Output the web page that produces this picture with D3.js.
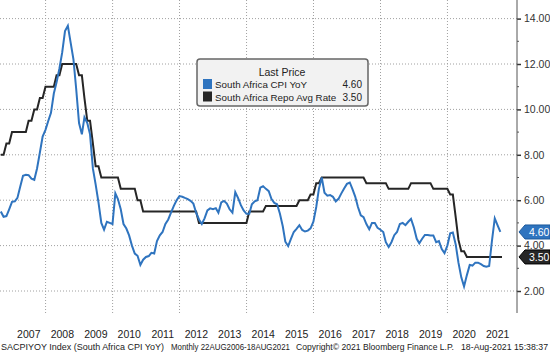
<!DOCTYPE html>
<html>
<head>
<meta charset="utf-8">
<script src="https://cdn.jsdelivr.net/npm/d3@7"></script>
<style>
  body { margin: 0; background: #fff; }
  svg { display: block; font-family: "Liberation Sans", Arial, sans-serif; }
</style>
</head>
<body>
<div id="viz"></div>
<script>
// monthly data, first value = Aug 2006
const startYear = 2006, startMonth = 7;

// South Africa CPI YoY (Aug 2006 .. Jul 2021)
const cpiYoY = [
  5.5, 5.27, 5.3, 5.6, 5.93,
  5.95, 6.1, 6.6, 7.08, 7.12, 7.1, 6.95, 6.9, 7.4, 8.1, 8.8, 9.1,
  9.5, 9.85, 10.7, 11.2, 11.8, 12.5, 13.45, 13.68, 12.95, 12.2, 10.9, 9.4,
  8.9, 9.65, 9.4, 8.9, 7.4, 6.7, 5.9, 5.0, 4.7, 5.05, 5.0, 4.95,
  6.3, 6.05, 5.6, 4.95, 4.75, 4.45, 4.0, 3.65, 3.55, 3.15, 3.38, 3.5,
  3.54, 3.68, 3.65, 4.2, 4.45, 4.6, 4.95, 5.15, 5.45, 5.75, 6.0, 6.18,
  6.15, 6.1, 6.05, 5.97, 5.85, 5.45, 5.15, 4.95, 5.2, 5.55, 5.64, 5.6,
  5.65, 5.45, 5.9, 5.97, 5.85, 5.6, 5.45, 6.35, 6.1, 5.78, 5.55, 5.4,
  5.4, 5.82, 5.95, 6.0, 6.55, 6.62, 6.5, 6.4, 6.05, 5.88, 5.82, 5.4,
  4.85, 4.17, 3.98, 4.3, 4.6, 4.74, 4.9, 4.69, 4.62, 4.66, 4.76, 5.05,
  5.7, 6.5, 7.0, 6.33, 6.2, 6.23, 6.15, 5.95, 6.06, 6.3, 6.52, 6.72,
  6.78, 6.5, 6.16, 5.7, 5.33, 5.25, 4.95, 4.72, 5.0, 5.0, 4.78, 4.7,
  4.6, 4.15, 3.94, 4.15, 4.46, 4.6, 4.95, 5.0, 4.9, 5.05, 5.18, 4.8,
  4.3, 4.1, 4.3, 4.47, 4.47, 4.45, 4.45, 4.15, 4.2, 3.85, 3.67, 4.0,
  4.54, 4.58, 4.05, 3.25, 2.6, 2.2, 2.7, 3.15, 3.12, 3.25, 3.25, 3.18,
  3.1, 3.07, 3.1, 4.2, 5.2, 4.9, 4.6
];

// South Africa repo average rate (Aug 2006 .. Aug 2021)
const repoRate = [
  8.0, 8.0, 8.5, 8.5, 9.0,
  9.0, 9.0, 9.0, 9.0, 9.0, 9.5, 9.5, 10.0, 10.0, 10.5, 10.5, 11.0,
  11.0, 11.0, 11.0, 11.5, 11.5, 12.0, 12.0, 12.0, 12.0, 12.0, 12.0, 11.5,
  11.5, 10.5, 9.5, 9.5, 8.5, 7.5, 7.5, 7.0, 7.0, 7.0, 7.0, 7.0,
  7.0, 7.0, 6.5, 6.5, 6.5, 6.5, 6.5, 6.5, 6.0, 6.0, 5.5, 5.5,
  5.5, 5.5, 5.5, 5.5, 5.5, 5.5, 5.5, 5.5, 5.5, 5.5, 5.5, 5.5,
  5.5, 5.5, 5.5, 5.5, 5.5, 5.5, 5.0, 5.0, 5.0, 5.0, 5.0, 5.0,
  5.0, 5.0, 5.0, 5.0, 5.0, 5.0, 5.0, 5.0, 5.0, 5.0, 5.0, 5.0,
  5.5, 5.5, 5.5, 5.5, 5.5, 5.5, 5.75, 5.75, 5.75, 5.75, 5.75, 5.75,
  5.75, 5.75, 5.75, 5.75, 5.75, 5.75, 6.0, 6.0, 6.0, 6.0, 6.25, 6.25,
  6.75, 6.75, 7.0, 7.0, 7.0, 7.0, 7.0, 7.0, 7.0, 7.0, 7.0, 7.0,
  7.0, 7.0, 7.0, 7.0, 7.0, 7.0, 6.75, 6.75, 6.75, 6.75, 6.75, 6.75,
  6.75, 6.75, 6.5, 6.5, 6.5, 6.5, 6.5, 6.5, 6.5, 6.5, 6.75, 6.75,
  6.75, 6.75, 6.75, 6.75, 6.75, 6.75, 6.5, 6.5, 6.5, 6.5, 6.5, 6.5,
  6.25, 6.25, 5.25, 4.25, 3.75, 3.75, 3.5, 3.5, 3.5, 3.5, 3.5, 3.5,
  3.5, 3.5, 3.5, 3.5, 3.5, 3.5, 3.5, 3.5
];

const yearLabels = ["2007", "2008", "2009", "2010", "2011", "2012", "2013", "2014",
  "2015", "2016", "2017", "2018", "2019", "2020", "2021"];
const gridYears = [2008, 2010, 2012, 2014, 2016, 2018, 2020];
const yTicks = [2, 4, 6, 8, 10, 12, 14];
const yMinorTicks = [3, 5, 7, 9, 11, 13];

const seriesNames = ["South Africa CPI YoY", "South Africa Repo Avg Rate"];
const lastValues = ["4.60", "3.50"];
const colors = ["#2f74bf", "#262626"];

const startDate = new Date(2006, 7, 22);
const endDate = new Date(2021, 7, 18);

// month end dates, the last repo point is the chart end date
const monthEnd = (i) => {
  const d = new Date(startYear, startMonth + i + 1, 0);
  return d > endDate ? endDate : d;
};

const width = 550, height = 353;
const axisX = 517;

const svg = d3.select("#viz")
  .append("svg")
  .attr("width", width)
  .attr("height", height);

const x = d3.scaleTime()
  .domain([startDate, endDate])
  .range([0, 502]);

const y = d3.scaleLinear()
  .domain([2, 14])
  .range([291, 18.6]);

// grid
svg.append("g")
  .selectAll("line")
  .data(yTicks)
  .enter()
  .append("line")
  .attr("x1", 0)
  .attr("x2", axisX)
  .attr("y1", (d) => y(d))
  .attr("y2", (d) => y(d))
  .attr("stroke", "#a0a0a0")
  .attr("stroke-dasharray", "1,2");

svg.append("g")
  .selectAll("line")
  .data(gridYears)
  .enter()
  .append("line")
  .attr("x1", (d) => x(new Date(d, 0, 1)))
  .attr("x2", (d) => x(new Date(d, 0, 1)))
  .attr("y1", 0)
  .attr("y2", 315)
  .attr("stroke", "#a0a0a0")
  .attr("stroke-dasharray", "1,2");

// right axis
const yAxis = svg.append("g")
  .attr("transform", `translate(${axisX},0)`)
  .call(d3.axisRight(y)
    .tickValues(yTicks)
    .tickFormat(d3.format(".2f"))
    .tickSize(4)
    .tickPadding(3));
yAxis.select(".domain").remove();
yAxis.selectAll("line").attr("stroke", "#333").attr("stroke-width", 1.5);
yAxis.selectAll("text")
  .attr("font-size", 10.5)
  .attr("fill", "#333")
  .attr("font-family", "Liberation Sans, Arial, sans-serif");

svg.append("line")
  .attr("x1", axisX).attr("x2", axisX)
  .attr("y1", 0).attr("y2", 313)
  .attr("stroke", "#555");

svg.append("g")
  .selectAll("line")
  .data(yMinorTicks)
  .enter()
  .append("line")
  .attr("x1", axisX)
  .attr("x2", axisX + 2)
  .attr("y1", (d) => y(d))
  .attr("y2", (d) => y(d))
  .attr("stroke", "#555");

// year labels centred in each year
svg.append("g")
  .selectAll("text")
  .data(yearLabels)
  .enter()
  .append("text")
  .attr("x", (d) => x(new Date(+d, 6, 2)))
  .attr("y", 338)
  .attr("text-anchor", "middle")
  .attr("font-size", 10.5)
  .attr("fill", "#222")
  .text((d) => d);

// lines
const line = d3.line()
  .x((d, i) => x(monthEnd(i)))
  .y((d) => y(d));

svg.append("path")
  .datum(repoRate)
  .attr("fill", "none")
  .attr("stroke", colors[1])
  .attr("stroke-width", 2)
  .attr("d", line);

svg.append("path")
  .datum(cpiYoY)
  .attr("fill", "none")
  .attr("stroke", colors[0])
  .attr("stroke-width", 2)
  .attr("d", line);

// last value tags on the axis
const tags = svg.append("g")
  .selectAll("g")
  .data([0, 1])
  .enter()
  .append("g")
  .attr("transform", (i) => `translate(${axisX + 2},${y(+lastValues[i])})`);

tags.append("path")
  .attr("d", "M0,0 L6,-7 L31,-7 L31,7 L6,7 Z")
  .attr("fill", (i) => colors[i])
  .attr("stroke", (i) => i === 0 ? "#1d5a9c" : "#000");

tags.append("text")
  .attr("x", 10)
  .attr("y", 3.8)
  .attr("font-size", 10.5)
  .attr("fill", "#fff")
  .text((i) => lastValues[i]);

// legend
const legend = svg.append("g");
legend.append("rect")
  .attr("x", 197).attr("y", 59)
  .attr("width", 171).attr("height", 47)
  .attr("rx", 3)
  .attr("fill", "#f2f2f2")
  .attr("stroke", "#666")
  .attr("stroke-width", 1.5);
legend.append("text")
  .attr("x", 282).attr("y", 76)
  .attr("text-anchor", "middle")
  .attr("font-size", 10.5)
  .attr("fill", "#222")
  .text("Last Price");

const rows = legend.selectAll(".row")
  .data([0, 1])
  .enter()
  .append("g")
  .attr("class", "row")
  .attr("transform", (i) => `translate(0,${84 + i * 12.5})`);
rows.append("rect")
  .attr("x", 203).attr("y", -5)
  .attr("width", 9).attr("height", 10)
  .attr("fill", (i) => colors[i]);
rows.append("text")
  .attr("x", 215).attr("y", 4)
  .attr("font-size", 9.8)
  .attr("fill", "#222")
  .text((i) => seriesNames[i]);
rows.append("text")
  .attr("x", 362).attr("y", 4)
  .attr("text-anchor", "end")
  .attr("font-size", 10)
  .attr("fill", "#222")
  .text((i) => lastValues[i]);

// footer
const footer = [
  { t: "SACPIYOY Index (South Africa CPI YoY)", x: 1, w: 163 },
  { t: "Monthly 22AUG2006-18AUG2021", x: 171, w: 119 },
  { t: "Copyright\u00a9 2021 Bloomberg Finance L.P.", x: 296, w: 158 },
  { t: "18-Aug-2021 15:38:37", x: 461, w: 87 }
];
svg.append("g")
  .selectAll("text")
  .data(footer)
  .enter()
  .append("text")
  .attr("x", (d) => d.x)
  .attr("y", 350)
  .attr("font-size", 9)
  .attr("fill", "#222")
  .attr("textLength", (d) => d.w)
  .attr("lengthAdjust", "spacingAndGlyphs")
  .text((d) => d.t);
</script>
</body>
</html>
